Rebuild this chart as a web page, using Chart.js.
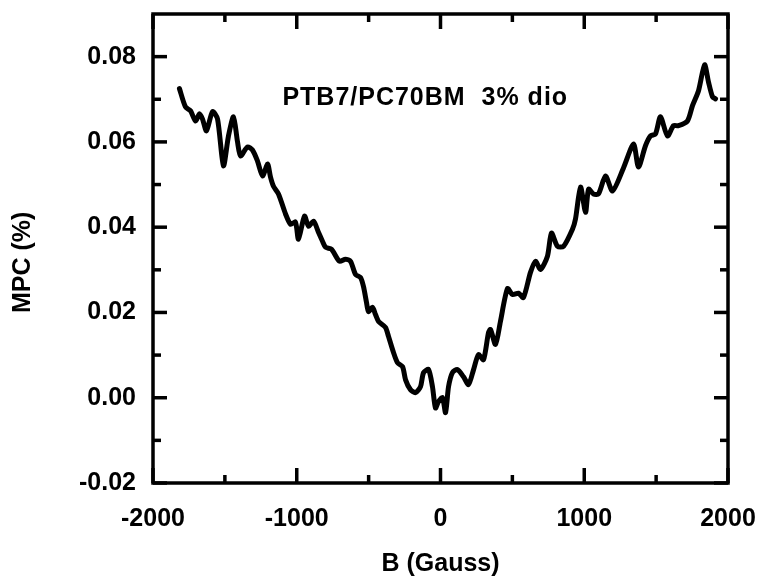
<!DOCTYPE html>
<html>
<head>
<meta charset="utf-8">
<script src="https://cdn.jsdelivr.net/npm/chart.js@4/dist/chart.umd.min.js"></script>
<style>
  body { margin: 0; background: #fff; }
  canvas { display: block; }
</style>
</head>
<body>
<canvas id="mpcChart" width="759" height="576"></canvas>
<script>
// Magnetic field (Gauss) and MPC (%)
const fieldGauss = [
  -1816, -1774, -1739, -1704, -1677, -1656, -1628, -1586, -1551, -1510,
  -1475, -1440, -1412, -1391, -1343, -1308, -1273, -1238, -1203, -1183,
  -1162, -1127, -1078, -1043, -1009, -988, -946, -918, -883, -849,
  -821, -800, -758, -703, -661, -626, -591, -557, -536, -515,
  -501, -473, -452, -431, -383, -362, -327, -299, -264, -243,
  -209, -174, -139, -118, -83, -56, -35, -14, 14, 35,
  56, 83, 118, 160, 195, 230, 264, 299, 334, 348,
  383, 417, 466, 501, 543, 577, 626, 661, 696, 744,
  772, 814, 856, 918, 939, 974, 1009, 1030, 1064, 1099,
  1148, 1197, 1273, 1343, 1377, 1426, 1461, 1496, 1530, 1579,
  1621, 1656, 1718, 1753, 1795, 1837, 1864, 1892, 1913
];
const mpcPercent = [
  0.0725, 0.0682, 0.0673, 0.0649, 0.0666, 0.0654, 0.0626, 0.0671, 0.0654, 0.0544,
  0.0614, 0.0659, 0.0600, 0.0567, 0.0588, 0.0581, 0.0555, 0.0520, 0.0548, 0.0518,
  0.0496, 0.0478, 0.0431, 0.0407, 0.0412, 0.0372, 0.0426, 0.0402, 0.0414, 0.0388,
  0.0367, 0.0353, 0.0348, 0.0320, 0.0325, 0.0320, 0.0289, 0.0282, 0.0261, 0.0224,
  0.0202, 0.0212, 0.0195, 0.0179, 0.0165, 0.0144, 0.0106, 0.0082, 0.0073, 0.0042,
  0.0019, 0.0012, 0.0026, 0.0059, 0.0066, 0.0026, -0.0024, -0.0009, 0.0000, -0.0035,
  0.0026, 0.0059, 0.0066, 0.0049, 0.0031, 0.0066, 0.0101, 0.0089, 0.0153, 0.0160,
  0.0125, 0.0179, 0.0256, 0.0242, 0.0245, 0.0235, 0.0294, 0.0320, 0.0301, 0.0332,
  0.0386, 0.0355, 0.0355, 0.0395, 0.0419, 0.0494, 0.0435, 0.0489, 0.0478, 0.0478,
  0.0520, 0.0485, 0.0539, 0.0595, 0.0541, 0.0591, 0.0614, 0.0619, 0.0659, 0.0614,
  0.0638, 0.0638, 0.0649, 0.0685, 0.0720, 0.0781, 0.0741, 0.0706, 0.0701
];
const xTickValues = [-2000, -1000, 0, 1000, 2000];
const xMinorValues = [-1500, -500, 500, 1500];
const yTickValues = [-0.02, 0.00, 0.02, 0.04, 0.06, 0.08];
const yMinorValues = [-0.01, 0.01, 0.03, 0.05, 0.07];
const sampleLabel = 'PTB7/PC70BM  3% dio';

const FONT = "'Liberation Sans', Arial, sans-serif";

// kill the extra room Chart.js keeps for overhanging end labels
function noOverhang(s) {
  s.paddingTop = 0; s.paddingBottom = 0; s.paddingLeft = 0; s.paddingRight = 0;
}

// frame with inward ticks on all four sides + the sample label
const framePlugin = {
  id: 'frame',
  afterDraw(chart) {
    const { ctx, chartArea: a, scales } = chart;
    const xs = scales.x, ys = scales.y;
    ctx.save();
    ctx.strokeStyle = '#000';
    ctx.lineWidth = 3.5;
    ctx.lineCap = 'butt';
    ctx.strokeRect(a.left, a.top, a.right - a.left, a.bottom - a.top);
    const tick = (x1, y1, x2, y2) => {
      ctx.beginPath(); ctx.moveTo(x1, y1); ctx.lineTo(x2, y2); ctx.stroke();
    };
    xTickValues.concat(xMinorValues).forEach(v => {
      const len = xTickValues.includes(v) ? 15 : 8;
      const px = xs.getPixelForValue(v);
      tick(px, a.bottom, px, a.bottom - len);
      tick(px, a.top, px, a.top + len);
    });
    yTickValues.concat(yMinorValues).forEach(v => {
      const len = yTickValues.includes(v) ? 14 : 8;
      const py = ys.getPixelForValue(v);
      tick(a.left, py, a.left + len, py);
      tick(a.right, py, a.right - len, py);
    });
    ctx.fillStyle = '#000';
    ctx.font = 'bold 25px ' + FONT;
    ctx.letterSpacing = '1px';
    ctx.textAlign = 'left';
    ctx.textBaseline = 'middle';
    ctx.fillText(sampleLabel, xs.getPixelForValue(-1100), ys.getPixelForValue(0.0702));
    ctx.restore();
  }
};

new Chart(document.getElementById('mpcChart'), {
  type: 'line',
  data: {
    datasets: [{
      data: fieldGauss.map((b, i) => ({ x: b, y: mpcPercent[i] })),
      borderColor: '#000',
      borderWidth: 5,
      pointRadius: 0,
      tension: 0.25,
      borderJoinStyle: 'round',
      borderCapStyle: 'round',
      fill: false
    }]
  },
  options: {
    responsive: false,
    animation: false,
    layout: { padding: { left: 6, top: 14, right: 31, bottom: 0 } },
    plugins: { legend: { display: false }, tooltip: { enabled: false } },
    scales: {
      x: {
        type: 'linear',
        min: -2000, max: 2000,
        grid: { display: false, drawTicks: false },
        border: { display: false },
        afterBuildTicks: s => { s.ticks = xTickValues.map(v => ({ value: v })); },
        afterFit: s => { s.height = 93; noOverhang(s); },
        ticks: {
          color: '#000', padding: 21, maxRotation: 0,
          font: { family: FONT, size: 25, weight: 'bold' },
          callback: v => String(v)
        },
        title: {
          display: true, text: 'B (Gauss)', color: '#000',
          font: { family: FONT, size: 25, weight: 'bold' },
          padding: { top: 0, bottom: -3 }
        }
      },
      y: {
        type: 'linear',
        min: -0.02, max: 0.09,
        grid: { display: false, drawTicks: false },
        border: { display: false },
        afterBuildTicks: s => { s.ticks = yTickValues.map(v => ({ value: v })); },
        afterFit: s => { s.width = 147; noOverhang(s); },
        ticks: {
          color: '#000', padding: 17,
          font: { family: FONT, size: 25, weight: 'bold' },
          callback: v => Number(v).toFixed(2)
        },
        title: {
          display: true, text: 'MPC (%)    ', color: '#000',
          font: { family: FONT, size: 25, weight: 'bold' },
          padding: { top: 2, bottom: 0 }
        }
      }
    }
  },
  plugins: [framePlugin]
});
</script>
</body>
</html>
